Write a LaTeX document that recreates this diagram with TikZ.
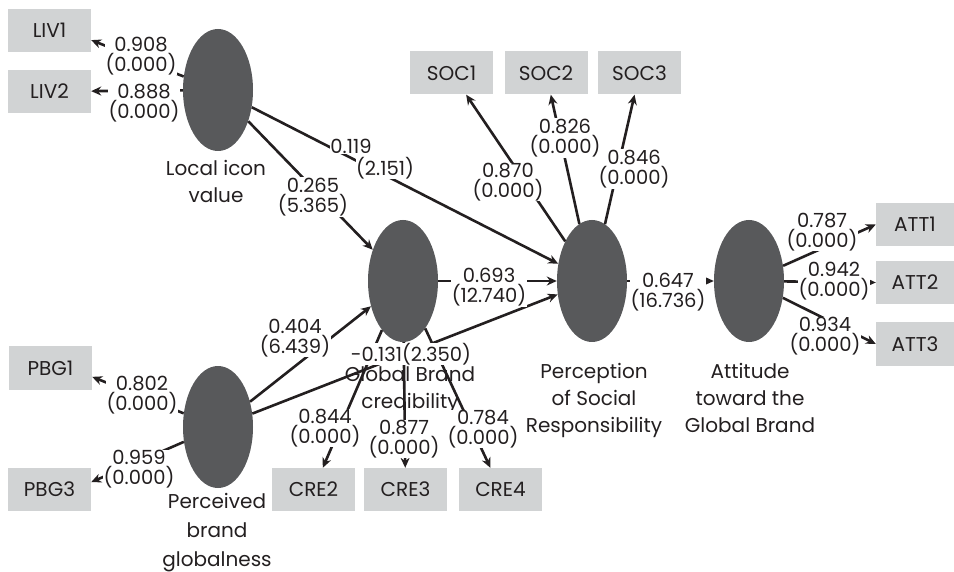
\documentclass[tikz,border=0pt]{standalone}
\usepackage{fontspec}
\setmainfont{Poppins}
\usetikzlibrary{shapes.geometric,arrows.meta}
\definecolor{ellgray}{HTML}{58595B}
\definecolor{boxgray}{HTML}{D1D3D4}
\definecolor{txt}{HTML}{231F20}
\begin{document}
\begin{tikzpicture}[x=1pt,y=-1pt,
  latent/.style={ellipse, fill=ellgray, minimum width=70pt, minimum height=122pt, inner sep=0pt},
  ind/.style={rectangle, fill=boxgray, minimum width=83pt, minimum height=43pt, inner sep=0pt, text=txt, font=\fontsize{20}{20}\selectfont},
  coef/.style={fill=white, inner sep=0.5pt, align=center, text=txt, font=\fontsize{19.5}{20}\selectfont},
  lname/.style={align=center, inner sep=0pt, anchor=north, text=txt, font=\fontsize{20}{27}\selectfont},
  arr/.style={draw=txt, line width=2.6pt, -{Stealth[length=10pt,width=9pt]}}]
\useasboundingbox (0,0) rectangle (954,572);
% indicators
\node[ind] (liv1) at (49.5,30.5) {LIV1};
\node[ind] (liv2) at (49.5,91.5) {LIV2};
\node[ind] (soc1) at (451.5,73) {SOC1};
\node[ind] (soc2) at (546,73) {SOC2};
\node[ind] (soc3) at (639.5,73) {SOC3};
\node[ind, minimum width=78pt] (att1) at (915,224.5) {ATT1};
\node[ind, minimum width=78pt] (att2) at (915,282.5) {ATT2};
\node[ind, minimum width=78pt] (att3) at (915,344) {ATT3};
\node[ind] (pbg1) at (50.5,368) {PBG1};
\node[ind] (pbg3) at (49.5,489.5) {PBG3};
\node[ind] (cre2) at (313.5,489.5) {CRE2};
\node[ind] (cre3) at (405.5,489.5) {CRE3};
\node[ind] (cre4) at (500.5,489.5) {CRE4};
% latent variables
\node[latent] (liv) at (218,90) {};
\node[latent] (gbc) at (403,281) {};
\node[latent] (psr) at (592,281) {};
\node[latent] (att) at (749,281) {};
\node[latent] (pbg) at (218,427) {};
% latent names
\node[lname] (livl) at (216,160) {Local icon\\value};
\node[lname] (gbcl) at (410,366) {Global Brand\\credibility};
\node[lname] (psrl) at (594,363) {Perception\\of Social\\Responsibility};
\node[lname] (attl) at (750,363) {Attitude\\toward the\\Global Brand};
\node[lname, font=\fontsize{20}{29}\selectfont] (pbgl) at (217,493) {Perceived\\brand\\globalness};
% connectors
\draw[arr] (liv) -- (liv1.-13);
\draw[arr] (liv) -- (liv2);
\draw[arr] (liv) -- (psr);
\draw[arr] (liv) -- (gbc);
\draw[arr] (gbc) -- (psr);
\draw[arr] (pbg) -- (gbc);
\draw[arr] (pbg) -- (psr);
\draw[arr] (psr) -- (att);
\draw[arr] (psr) -- (soc1);
\draw[arr] (psr) -- (soc2);
\draw[arr] (psr) -- (soc3);
\draw[arr] (att) -- (att1.west);
\draw[arr] (att) -- (att2.west);
\draw[arr] (att) -- (att3.west);
\draw[arr] (gbc) -- (cre2);
\draw[arr] (gbc) -- (cre3);
\draw[arr] (gbc) -- (cre4);
\draw[arr] (pbg) -- (pbg1.-12);
\draw[arr] (pbg) -- (pbg3.10);
% coefficients
\node[coef] (k1) at (141,56) {0.908\\(0.000)};
\node[coef] (k2) at (144,103) {0.888\\(0.000)};
\node[coef] (k3a) at (351,146) {0.119};
\node[coef] (k3b) at (385,168) {(2.151)};
\node[coef] (k4) at (313,197) {0.265\\(5.365)};
\node[coef] (k5) at (489,287) {0.693\\(12.740)};
\node[coef] (k6) at (295,338) {0.404\\(6.439)};
\node[coef] (k7) at (411,354) {-0.131(2.350)};
\node[coef] (k8) at (668,292) {0.647\\(16.736)};
\node[coef] (k9) at (508,182) {0.870\\(0.000)};
\node[coef] (k10) at (565,138) {0.826\\(0.000)};
\node[coef] (k11) at (634,169) {0.846\\(0.000)};
\node[coef] (k12) at (822,232) {0.787\\(0.000)};
\node[coef] (k13) at (834,281) {0.942\\(0.000)};
\node[coef] (k14) at (825,336) {0.934\\(0.000)};
\node[coef] (k15) at (142,395) {0.802\\(0.000)};
\node[coef] (k16) at (139,469) {0.959\\(0.000)};
\node[coef] (k17) at (325,428) {0.844\\(0.000)};
\node[coef] (k18) at (404,439) {0.877\\(0.000)};
\node[coef] (k19) at (483,429) {0.784\\(0.000)};
\end{tikzpicture}
\end{document}
